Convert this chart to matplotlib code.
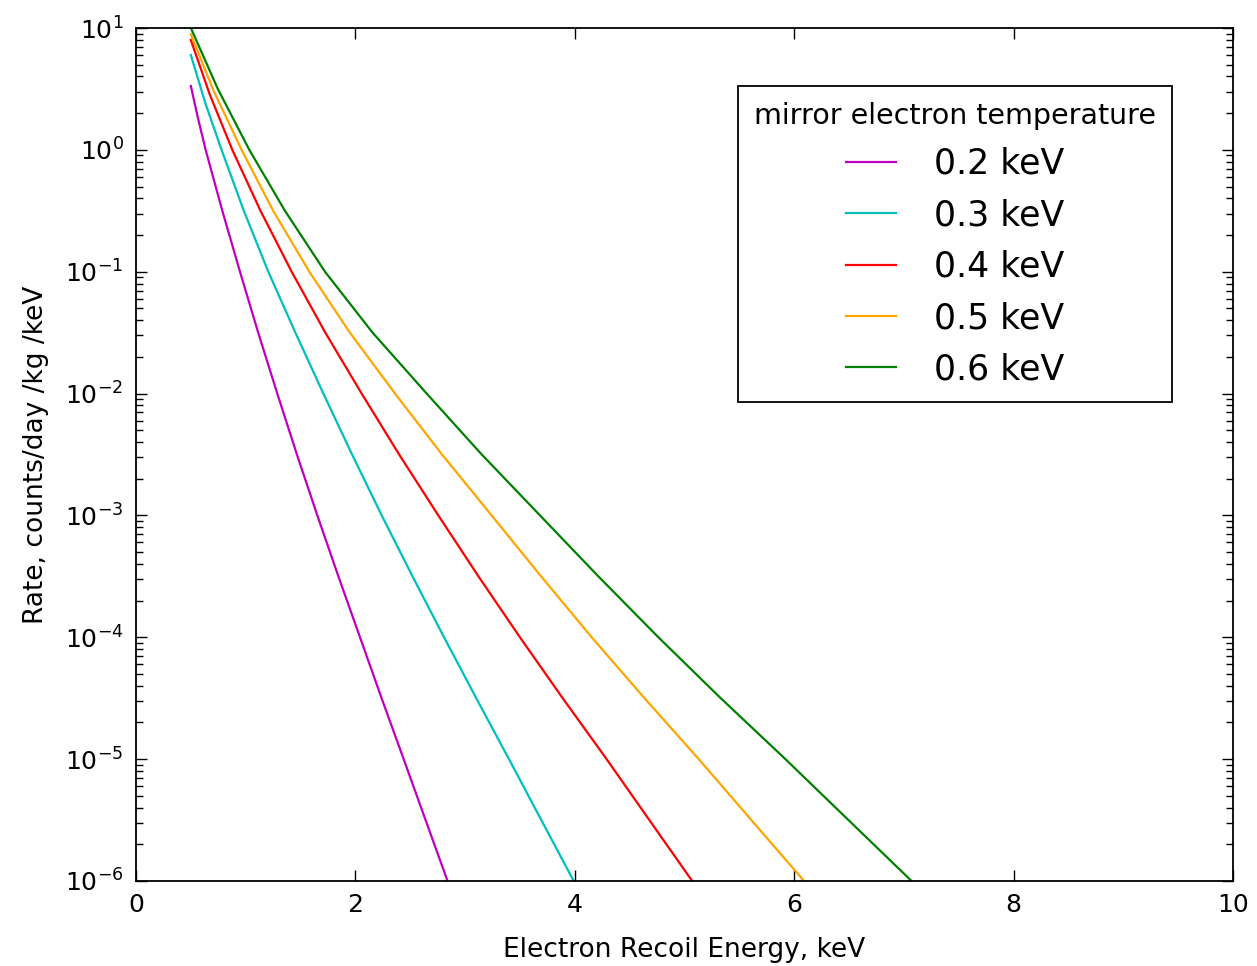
import matplotlib
matplotlib.use("Agg")
import matplotlib.pyplot as plt
from matplotlib.ticker import LogLocator, MultipleLocator

plt.rcParams["font.family"] = "DejaVu Sans"
plt.rcParams["axes.unicode_minus"] = False
plt.rcParams["mathtext.default"] = "regular"

# points (energy keV, rate counts/day/kg/keV), at decade and half-decade levels
x_02 = [0.5, 0.565, 0.635, 0.787, 0.948, 1.114, 1.288, 1.467, 1.653, 1.845, 2.042, 2.239, 2.44, 2.64, 2.84]
y_02 = [3.34, 1.82, 1, 0.316, 1e-1, 3.16e-2, 1e-2, 3.16e-3, 1e-3, 3.16e-4, 1e-4, 3.16e-5, 1e-5, 3.16e-6, 1e-6]

x_03 = [0.5, 0.63, 0.78, 0.983, 1.206, 1.453, 1.708, 1.970, 2.240, 2.521, 2.808, 3.102, 3.40, 3.695, 3.99]
y_03 = [6.0, 2.45, 1, 0.316, 1e-1, 3.16e-2, 1e-2, 3.16e-3, 1e-3, 3.16e-4, 1e-4, 3.16e-5, 1e-5, 3.16e-6, 1e-6]

x_04 = [0.5, 0.674, 0.878, 1.135, 1.419, 1.726, 2.057, 2.399, 2.756, 3.122, 3.500, 3.89, 4.29, 4.68, 5.07]
y_04 = [7.97, 2.82, 1, 0.316, 1e-1, 3.16e-2, 1e-2, 3.16e-3, 1e-3, 3.16e-4, 1e-4, 3.16e-5, 1e-5, 3.16e-6, 1e-6]

x_05 = [0.5, 0.712, 0.963, 1.251, 1.580, 1.95, 2.361, 2.79, 3.242, 3.693, 4.154, 4.636, 5.13, 5.61, 6.09]
y_05 = [8.9, 2.99, 1, 0.316, 1e-1, 3.16e-2, 1e-2, 3.16e-3, 1e-3, 3.16e-4, 1e-4, 3.16e-5, 1e-5, 3.16e-6, 1e-6]

x_06 = [0.5, 0.746, 1.033, 1.358, 1.723, 2.157, 2.650, 3.152, 3.683, 4.215, 4.762, 5.331, 5.92, 6.495, 7.07]
y_06 = [10.0, 3.16, 1, 0.316, 1e-1, 3.16e-2, 1e-2, 3.16e-3, 1e-3, 3.16e-4, 1e-4, 3.16e-5, 1e-5, 3.16e-6, 1e-6]

labels = ["0.2 keV", "0.3 keV", "0.4 keV", "0.5 keV", "0.6 keV"]
colors = [(0.75, 0, 0.75), (0, 0.75, 0.75), "red", "orange", "green"]

series = [(x_02, y_02), (x_03, y_03), (x_04, y_04), (x_05, y_05), (x_06, y_06)]

fig = plt.figure(figsize=(12.57, 9.66), dpi=100)
ax = fig.add_axes([136 / 1257, 1 - 881 / 966, (1233 - 136) / 1257, (881 - 28) / 966])

for (xs, ys), lab, c in zip(series, labels, colors):
    ax.plot(xs, ys, color=c, lw=1.6, label=lab)

ax.set_yscale("log")
ax.set_xlim(0, 10)
ax.set_ylim(1e-6, 1e1)
ax.xaxis.set_major_locator(MultipleLocator(2))
ax.yaxis.set_major_locator(LogLocator(base=10, numticks=20))
ax.yaxis.set_minor_locator(LogLocator(base=10, subs=range(2, 10), numticks=20))

for s in ax.spines.values():
    s.set_linewidth(1.3)
ax.tick_params(which="both", direction="in", top=True, right=True, width=1.0)
ax.tick_params(which="major", length=8, labelsize=18, pad=9)
ax.tick_params(which="minor", length=5)

ax.set_xlabel("Electron Recoil Energy, keV", fontsize=19, labelpad=14)
ax.set_ylabel("Rate, counts/day /kg /keV", fontsize=19, labelpad=11)

leg = ax.legend(title="mirror electron temperature", loc="upper right",
                bbox_to_anchor=(0.944, 0.932), borderaxespad=0,
                fontsize=25, title_fontsize=20.5, fancybox=False,
                edgecolor="black", framealpha=1, handlelength=1.45,
                handletextpad=1.1, labelspacing=0.5, borderpad=0.45)
leg.get_frame().set_linewidth(1.3)

fig.savefig("out.png", dpi=100, facecolor="white")
